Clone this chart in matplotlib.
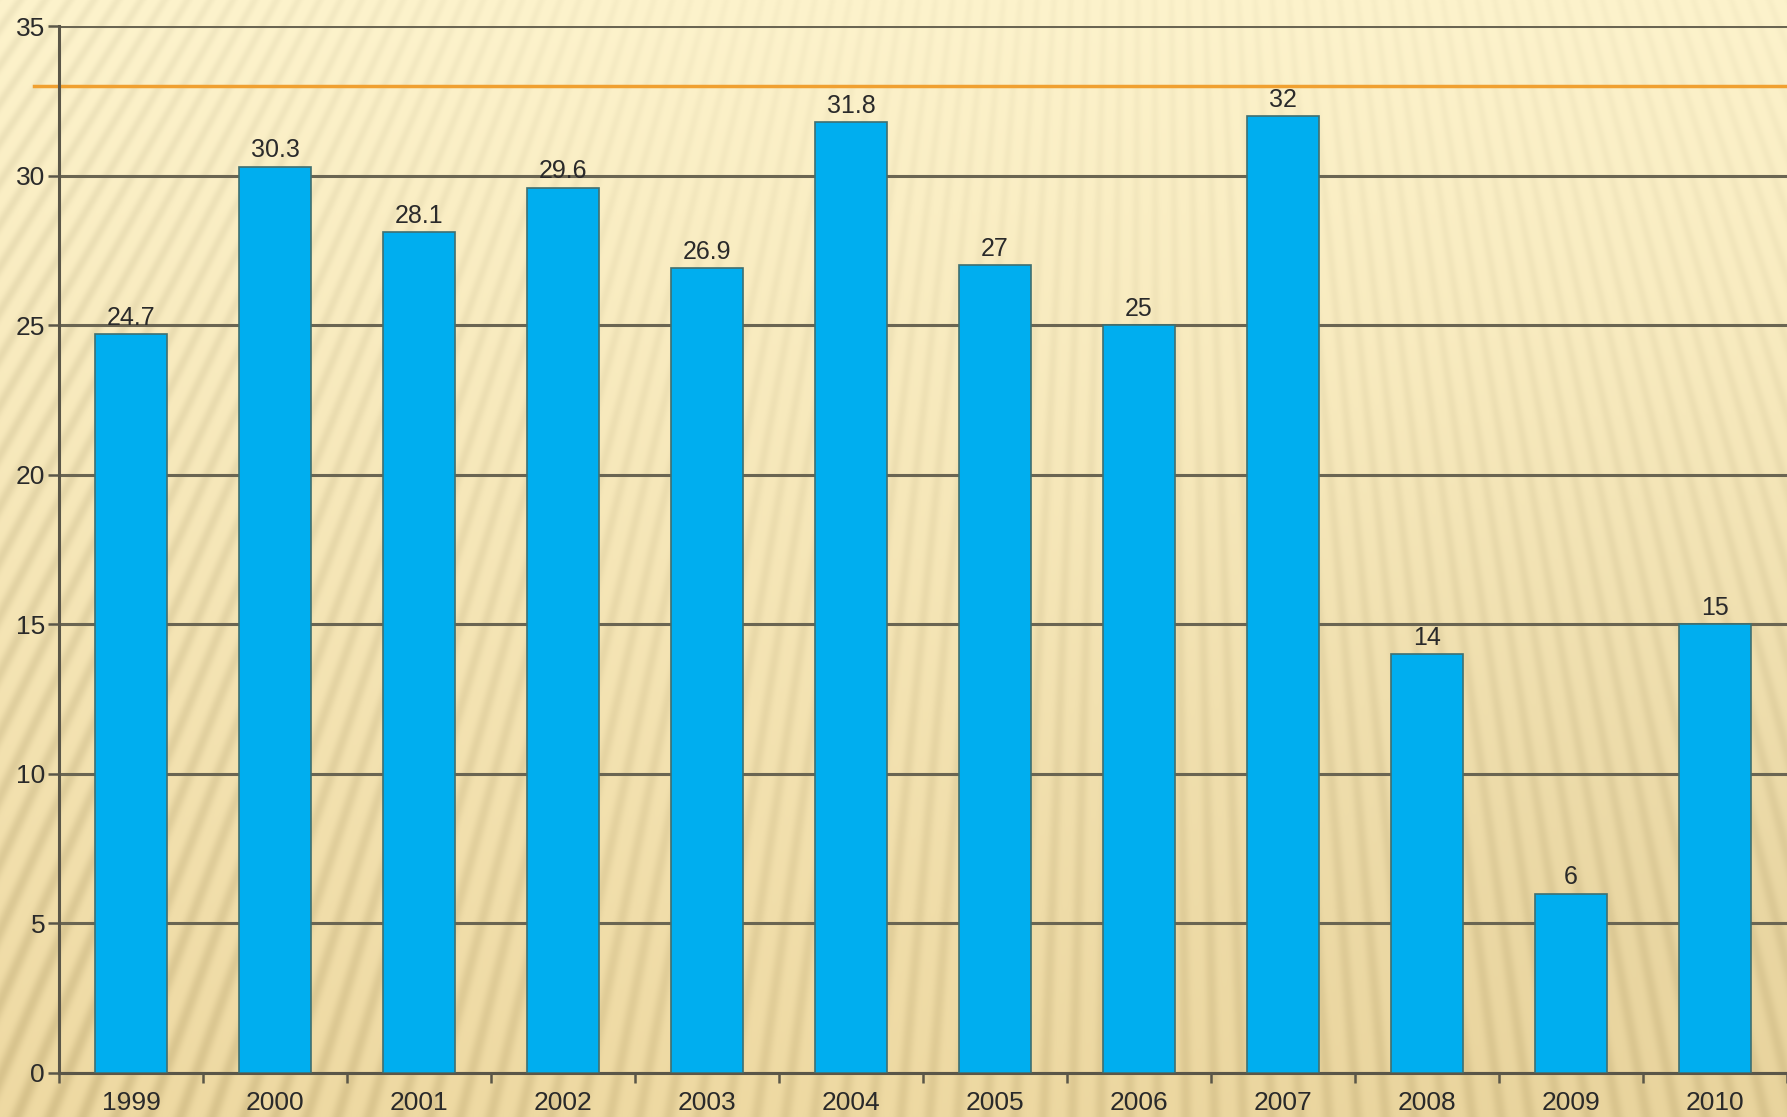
import numpy as np
import matplotlib.pyplot as plt
from matplotlib.ticker import FixedLocator

plt.rcParams['font.family'] = ['Liberation Sans', 'DejaVu Sans']

years = ["1999", "2000", "2001", "2002", "2003", "2004",
         "2005", "2006", "2007", "2008", "2009", "2010"]
values = [24.7, 30.3, 28.1, 29.6, 26.9, 31.8, 27, 25, 32, 14, 6, 15]
value_labels = ["24.7", "30.3", "28.1", "29.6", "26.9", "31.8",
                "27", "25", "32", "14", "6", "15"]
ref_level = 33

W, H = 1787, 1117
fig = plt.figure(figsize=(W / 100, H / 100), dpi=100)

# textured cream background (radial stripes like the slide template)
yy, xx = np.mgrid[0:H, 0:W].astype(float)
ang = np.arctan2(xx - 1150, yy + 1600)
stripes = (0.5 + 0.5 * np.sin(ang * 600)) ** 2
t = yy / H
top = np.array([253, 243, 204]) / 255
bot = np.array([238, 217, 162]) / 255
base = top[None, None, :] * (1 - t[..., None]) + bot[None, None, :] * t[..., None]
# slightly darker blob toward lower right
blob = np.clip(1 - np.hypot((xx - 1750) / 900, (yy - 900) / 600), 0, 1)
base = base - 0.03 * blob[..., None]
# stripes stronger at the left edge and lower down
side = np.clip(1 - xx / 700, 0, 1)
amp = (0.02 + 0.04 * t + 0.03 * side)[..., None]
img = np.clip(base - amp * stripes[..., None], 0, 1)
bg = fig.add_axes([0, 0, 1, 1])
bg.imshow(img, aspect='auto', extent=[0, 1, 0, 1])
bg.axis('off')

ax = fig.add_axes([59 / W, 1 - 1073 / H, 1 - 59 / W, (1073 - 26) / H])
ax.set_facecolor('none')

x = np.arange(len(years))
bars = ax.bar(x, values, width=0.5, color='#00AEEF', edgecolor='#3f6f70',
              linewidth=1.2, zorder=3)

for xi, v, lab in zip(x, values, value_labels):
    ax.annotate(lab, (xi, v), xytext=(0, 3), textcoords='offset points',
                ha='center', va='bottom', fontsize=18, color='#2a2a2a', zorder=4)

ax.axhline(ref_level, xmin=-0.0145, xmax=1, color='#F0A030', linewidth=2.5,
           clip_on=False, zorder=2)

ax.set_xlim(-0.5, len(years) - 0.5)
ax.set_ylim(0, 35)
ax.set_yticks(range(0, 36, 5))
ax.yaxis.grid(True, color='#6a6552', linewidth=2.2, zorder=1)
ax.set_axisbelow(True)

ax.set_xticks(x)
ax.set_xticklabels(years)
ax.xaxis.set_minor_locator(FixedLocator(np.arange(-0.5, len(years), 1.0)))
ax.tick_params(axis='x', which='major', length=0, pad=13, labelsize=19,
               labelcolor='#2a2a2a')
ax.tick_params(axis='x', which='minor', length=7, width=1.8, color='#5a5648',
               direction='out')
ax.tick_params(axis='y', length=8, width=1.8, color='#5a5648', pad=2,
               labelsize=19, labelcolor='#2a2a2a')

for side_name in ['top', 'right']:
    ax.spines[side_name].set_visible(False)
for side_name in ['left', 'bottom']:
    ax.spines[side_name].set_color('#5a5648')
    ax.spines[side_name].set_linewidth(2.2)

fig.savefig('out.png', dpi=100)
